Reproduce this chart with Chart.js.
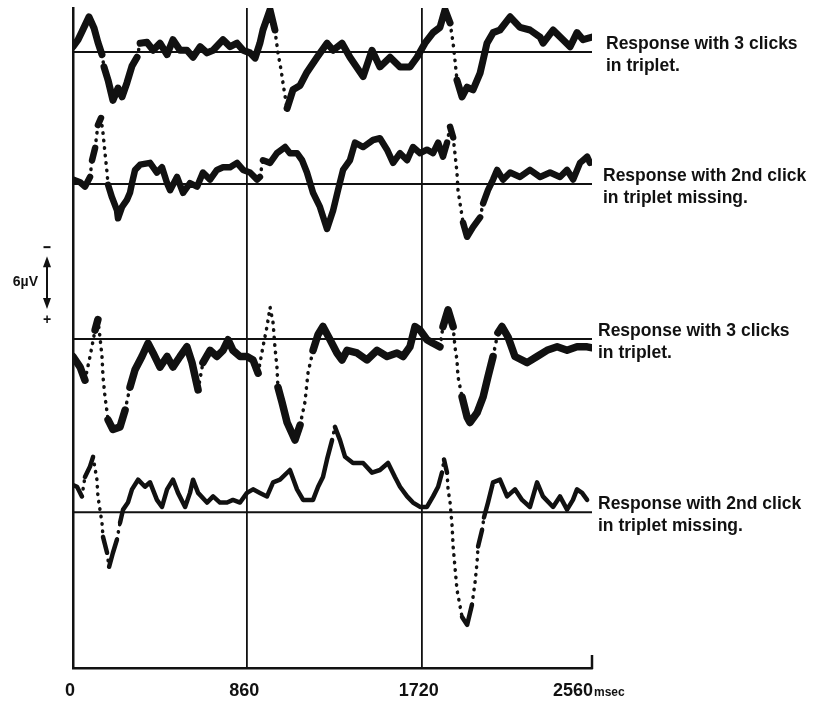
<!DOCTYPE html>
<html>
<head>
<meta charset="utf-8">
<script src="https://cdn.jsdelivr.net/npm/chart.js@4/dist/chart.umd.min.js"></script>
<style>
  html, body { margin: 0; padding: 0; background: #fff; }
  canvas { display: block; }
</style>
</head>
<body>
<canvas id="myChart" width="818" height="701"></canvas>
<script>
// time axis (msec)
const xTicks = [0, 860, 1720, 2560];

// each trace: sample times (msec) and deflection from its own baseline (µV, negative = up)
const trace1Time = [0,25,44,79,104,123,143,153,173,197,222,242,266,291,316,331,365,395,429,464,493,528,562,592,627,661,691,740,775,809,839,873,898,922,937,972,996,1011,1026,1041,1056,1085,1120,1154,1204,1253,1283,1327,1366,1431,1475,1514,1564,1613,1662,1697,1736,1776,1810,1835,1860,1875,1884,1894,1919,1944,1973,2008,2023,2042,2072,2106,2156,2205,2254,2304,2319,2368,2417,2452,2486,2516,2560];
const trace1Uv = [-0.6,-1.4,-2.3,-4.0,-2.7,-1.1,0.3,1.7,3.2,5.5,4.1,5.1,3.5,1.6,0.6,-1.0,-1.1,-0.2,-1.0,0.3,-1.4,-0.2,-0.2,0.6,-0.6,0.1,-0.2,-1.4,-0.6,-1.0,-0.2,0.1,0.7,-1.0,-2.5,-4.8,-2.5,0.1,2.0,4.3,6.4,4.3,3.8,2.3,0.6,-1.0,-0.2,-1.0,0.6,2.8,-0.2,1.7,0.6,1.7,1.7,0.6,-1.0,-2.2,-2.8,-4.8,-3.3,-1.0,0.9,3.2,5.1,4.0,4.3,2.4,0.9,-1.0,-2.2,-2.5,-4.0,-2.8,-2.5,-1.7,-1.0,-2.5,-1.4,-0.6,-2.2,-1.4,-1.7];

const trace2Time = [0,35,59,84,94,109,123,138,148,158,168,173,192,217,222,242,266,281,291,306,331,380,414,439,464,479,513,543,577,612,641,676,710,740,775,809,839,873,908,922,937,972,1006,1046,1070,1105,1130,1154,1184,1218,1253,1283,1307,1332,1366,1391,1431,1480,1514,1549,1579,1613,1648,1677,1712,1746,1776,1801,1825,1845,1860,1875,1884,1894,1899,1909,1924,1944,1973,2008,2023,2047,2072,2092,2121,2156,2205,2254,2304,2353,2402,2437,2467,2501,2536,2550];
const trace2Uv = [-0.5,-0.2,0.3,-0.8,-2.7,-4.1,-6.7,-7.5,-5.8,-3.5,-1.3,0.1,1.5,3.0,3.9,2.6,1.8,1.0,-0.1,-1.6,-2.2,-2.4,-1.3,-1.9,-0.1,0.7,-0.8,1.0,-0.1,0.3,-1.3,-0.5,-1.6,-1.9,-1.9,-2.4,-1.6,-1.3,-0.5,-0.8,-2.7,-2.4,-3.5,-4.2,-3.5,-3.5,-2.7,-1.3,1.0,2.6,5.1,3.0,0.7,-1.6,-2.7,-4.7,-4.2,-5.0,-5.2,-3.9,-2.4,-3.5,-2.7,-4.2,-3.5,-3.9,-3.5,-4.7,-3.1,-4.7,-6.5,-5.3,-3.5,-1.3,0.7,2.2,4.4,6.0,4.9,3.8,2.2,0.7,-0.5,-1.6,-0.5,-1.3,-0.8,-1.6,-0.8,-1.3,-0.8,-1.6,-0.5,-2.4,-3.1,-2.4];

const trace3Time = [0,35,59,84,109,123,133,143,148,158,173,197,232,257,281,306,340,370,395,429,464,493,528,562,587,617,641,676,710,740,765,789,824,858,888,913,937,957,972,987,996,1006,1011,1031,1056,1095,1120,1144,1159,1184,1209,1233,1268,1302,1327,1352,1401,1450,1500,1549,1598,1628,1662,1687,1712,1746,1776,1810,1825,1850,1875,1884,1894,1899,1919,1944,1958,1993,2023,2047,2072,2096,2116,2146,2180,2240,2289,2338,2388,2437,2486,2536,2555];
const trace3Uv = [2.0,3.2,4.7,2.0,-1.0,-2.2,-0.2,2.0,4.3,6.6,9.2,10.3,10.0,8.1,5.5,3.5,2.0,0.5,1.6,3.2,2.0,3.2,2.0,0.9,2.7,5.8,2.7,1.3,2.0,1.3,0.1,1.3,2.0,2.0,2.4,3.9,0.9,-1.4,-3.6,-1.8,0.9,3.2,5.5,7.2,9.5,11.5,9.8,7.2,3.9,1.3,-0.5,-1.4,0.1,1.6,2.4,1.3,1.6,2.4,1.3,2.0,1.6,2.0,0.9,-1.4,-1.0,0.1,0.5,0.9,-1.4,-3.3,-1.4,0.9,2.4,4.3,6.6,8.9,9.5,8.4,6.6,4.3,2.0,-0.7,-1.4,-0.2,2.0,2.7,2.0,1.3,0.9,1.3,0.9,0.9,1.0];

const trace4Time = [0,20,44,59,84,99,118,123,133,143,148,168,178,197,217,232,247,271,291,321,355,380,414,439,464,493,518,553,577,592,617,661,691,725,760,789,824,858,888,922,957,987,1021,1070,1105,1135,1184,1209,1233,1253,1278,1292,1317,1342,1381,1431,1475,1514,1554,1588,1613,1648,1677,1712,1746,1776,1801,1820,1830,1845,1850,1860,1870,1875,1884,1894,1919,1944,1968,1983,1993,1998,2018,2027,2047,2072,2106,2141,2180,2215,2254,2289,2318,2368,2402,2437,2466,2486,2511,2536];
const trace4Uv = [-3.1,-2.9,-1.8,-4.0,-5.2,-6.3,-3.7,-1.8,-0.3,1.2,2.8,4.6,6.2,4.6,3.1,1.2,-0.3,-1.1,-2.6,-3.7,-2.9,-3.4,-1.4,-0.6,-2.6,-3.7,-2.2,-0.6,-2.2,-3.7,-2.2,-1.1,-1.8,-1.1,-1.1,-1.4,-1.1,-2.2,-2.6,-2.2,-1.8,-3.4,-3.7,-4.8,-2.6,-1.4,-1.4,-2.9,-4.0,-6.0,-8.2,-9.7,-8.2,-6.3,-5.6,-5.6,-4.5,-4.8,-5.6,-4.0,-2.9,-1.8,-1.1,-0.6,-0.6,-1.8,-2.9,-4.5,-6.0,-4.5,-2.6,-1.1,1.6,3.9,6.2,8.8,11.9,12.8,10.5,8.0,5.7,3.9,2.0,0.6,-1.1,-3.4,-3.7,-1.8,-2.6,-1.4,-0.6,-3.4,-1.8,-0.6,-1.8,-0.3,-1.4,-2.6,-2.2,-1.4];

// baseline of each trace, µV down from the top of the plot
const traceOffsets = [5.0, 20.0, 37.6, 57.3];
const traceLabels = [
	["Response with 3 clicks", "in triplet."],
	["Response with 2nd click", "in triplet missing."],
	["Response with 3 clicks", "in triplet."],
	["Response with 2nd click", "in triplet missing."],
];
const scaleBarUv = 6;

const times = [trace1Time, trace2Time, trace3Time, trace4Time];
const values = [trace1Uv, trace2Uv, trace3Uv, trace4Uv];
const widths = [7, 6.5, 7.5, 4.5];
const ink = '#111';
const font = '"Liberation Sans", Arial, sans-serif';

// steep parts of the traces come out dotted in the original
function steep(ctx) {
	const dx = Math.abs(ctx.p1.x - ctx.p0.x);
	const dy = Math.abs(ctx.p1.y - ctx.p0.y);
	return dy > 10 && dy > 4.5 * dx;
}

var datasets = [];
traceOffsets.forEach(function (base, i) {
	datasets.push({
		label: 'baseline ' + (i + 1),
		data: [{ x: xTicks[0], y: base }, { x: xTicks[xTicks.length - 1], y: base }],
		borderColor: ink,
		borderWidth: 2,
		pointRadius: 0,
		order: 2,
	});
	datasets.push({
		label: traceLabels[i].join(' '),
		data: times[i].map((t, k) => ({ x: t, y: base + values[i][k] })),
		borderColor: ink,
		borderWidth: widths[i],
		borderJoinStyle: 'round',
		borderCapStyle: 'round',
		pointRadius: 0,
		tension: 0,
		order: 1,
		segment: {
			borderDash: ctx => steep(ctx) ? [0.5, 7] : undefined,
			borderWidth: ctx => steep(ctx) ? 3.5 : undefined,
		},
	});
});

const decorations = {
	id: 'decorations',
	afterDraw(chart) {
		const ctx = chart.ctx;
		const xs = chart.scales.x;
		const ys = chart.scales.y;
		ctx.save();
		ctx.fillStyle = ink;
		ctx.strokeStyle = ink;

		// short end tick at 2560
		const xEnd = xs.getPixelForValue(xTicks[xTicks.length - 1]);
		ctx.lineWidth = 2.5;
		ctx.beginPath();
		ctx.moveTo(xEnd, ys.bottom + 1);
		ctx.lineTo(xEnd, ys.bottom - 13);
		ctx.stroke();

		// tick labels
		ctx.font = 'bold 18px ' + font;
		ctx.textBaseline = 'top';
		xTicks.forEach(function (v, i) {
			const px = xs.getPixelForValue(v);
			if (i === xTicks.length - 1) {
				ctx.textAlign = 'right';
				ctx.fillText(String(v), px + 1, 682);
				ctx.textAlign = 'left';
				ctx.font = 'bold 12px ' + font;
				ctx.fillText('msec', px + 2, 687);
				ctx.font = 'bold 18px ' + font;
			} else {
				ctx.textAlign = 'center';
				ctx.fillText(String(v), px - 3, 682);
			}
		});

		// labels to the right of each trace
		ctx.font = 'bold 17.5px ' + font;
		ctx.textAlign = 'left';
		ctx.textBaseline = 'middle';
		const labelX = [606, 603, 598, 598];
		traceOffsets.forEach(function (base, i) {
			const py = ys.getPixelForValue(base);
			ctx.fillText(traceLabels[i][0], labelX[i], py - 8);
			ctx.fillText(traceLabels[i][1], labelX[i], py + 14);
		});

		// 6 µV calibration arrow, negative up
		const barX = 47;
		const top = ys.getPixelForValue(28.2);
		const bottom = ys.getPixelForValue(28.2 + scaleBarUv);
		ctx.lineWidth = 2;
		ctx.beginPath();
		ctx.moveTo(barX, top + 8);
		ctx.lineTo(barX, bottom - 8);
		ctx.stroke();
		ctx.beginPath();
		ctx.moveTo(barX, top);
		ctx.lineTo(barX - 4, top + 11);
		ctx.lineTo(barX + 4, top + 11);
		ctx.closePath();
		ctx.fill();
		ctx.beginPath();
		ctx.moveTo(barX, bottom);
		ctx.lineTo(barX - 4, bottom - 11);
		ctx.lineTo(barX + 4, bottom - 11);
		ctx.closePath();
		ctx.fill();
		ctx.lineWidth = 2;
		ctx.beginPath();
		ctx.moveTo(barX - 3.5, top - 9);
		ctx.lineTo(barX + 3.5, top - 9);
		ctx.stroke();
		ctx.font = 'bold 14px ' + font;
		ctx.textAlign = 'center';
		ctx.fillText('+', barX, bottom + 11);
		ctx.textAlign = 'right';
		ctx.fillText('6\u00b5V', barX - 9, (top + bottom) / 2);
		ctx.restore();
	},
};

const config = {
	type: 'line',
	data: { datasets: datasets },
	options: {
		responsive: false,
		animation: false,
		devicePixelRatio: 1,
		layout: { padding: { left: 73, right: 226, top: 8, bottom: 33 } },
		plugins: {
			legend: { display: false },
			tooltip: { enabled: false },
		},
		scales: {
			x: {
				type: 'linear',
				min: 0,
				max: 2560,
				afterBuildTicks: scale => { scale.ticks = xTicks.map(v => ({ value: v })); },
				ticks: { display: false },
				grid: {
					drawTicks: false,
					lineWidth: 1.8,
					color: c => (c.tick && (c.tick.value === 860 || c.tick.value === 1720)) ? ink : 'rgba(0,0,0,0)',
				},
				border: { display: true, color: ink, width: 2.5 },
			},
			y: {
				type: 'linear',
				min: 0,
				max: 75,
				reverse: true,
				ticks: { display: false },
				grid: { display: false, drawTicks: false },
				border: { display: true, color: ink, width: 2.5 },
			},
		},
	},
	plugins: [decorations],
};

var myChart = new Chart(document.getElementById('myChart'), config);
</script>
</body>
</html>
